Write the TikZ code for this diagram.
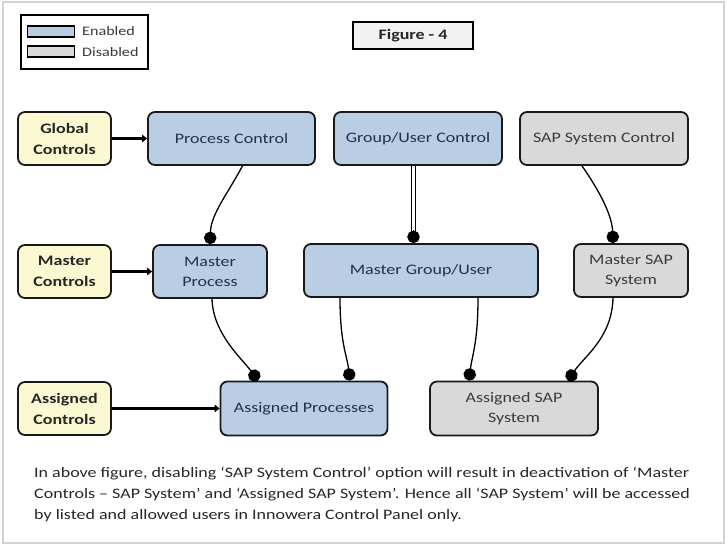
\documentclass[tikz,border=0pt]{standalone}
\usepackage{fontspec}
\setmainfont{Carlito}[FakeStretch=1.24]
\usetikzlibrary{arrows.meta,calc}
\definecolor{enfill}{HTML}{B9CDE5}
\definecolor{disfill}{HTML}{D9D9D9}
\definecolor{ctlfill}{HTML}{FCF9D2}
\definecolor{entext}{HTML}{1F3050}
\definecolor{distext}{HTML}{3A3A3A}
\definecolor{framec}{HTML}{D0D4D8}
\definecolor{bodytext}{HTML}{262626}
\tikzset{
  box/.style={draw=black!90, line width=1.8pt, rounded corners=7pt, align=center,
    inner sep=2pt, font=\fontsize{14.5}{20}\selectfont},
  enbox/.style={box, fill=enfill, text=entext},
  disbox/.style={box, fill=disfill, text=distext},
  ctlbox/.style={box, fill=ctlfill, text=bodytext, minimum width=93pt, minimum height=53pt,
    font=\fontsize{14.5}{21}\selectfont\bfseries},
  thickarrow/.style={line width=3.2pt, -{Triangle[length=5pt,width=7.5pt]}},
  dotline/.style={line width=1.3pt, -{Circle[length=12.5pt]}},
}
\begin{document}
\begin{tikzpicture}[x=1pt,y=-1pt]
\useasboundingbox (0,0) rectangle (728,547);
\draw[framec, line width=2pt] (3,2) rectangle (724,543);

% legend
\node[draw=black, line width=1.5pt, minimum width=127pt, minimum height=54pt, inner sep=0pt] (legend) at (84.5,42) {};
\node[draw=black, line width=1.5pt, fill=enfill, minimum width=47pt, minimum height=11pt, inner sep=0pt] (swen) at (51,31.5) {};
\node[draw=black, line width=1.5pt, fill=disfill, minimum width=47pt, minimum height=11pt, inner sep=0pt] (swdis) at (51,51.5) {};
\node[anchor=west, text=distext, font=\fontsize{13}{15}\selectfont, inner sep=0pt] (len) at (82,31.5) {Enabled};
\node[anchor=west, text=distext, font=\fontsize{13}{15}\selectfont, inner sep=0pt] (ldis) at (82,52) {Disabled};

% figure title
\node[draw=black, line width=1.5pt, fill=black!5, minimum width=120pt, minimum height=27pt,
  font=\fontsize{14.5}{17}\selectfont\bfseries, text=bodytext] (fig) at (413,35.5) {Figure - 4};

% control labels
\node[ctlbox] (gc) at (64.5,138.5) {Global\\Controls};
\node[ctlbox] (mc) at (64.5,271.5) {Master\\Controls};
\node[ctlbox] (ac) at (64.5,408.5) {Assigned\\Controls};

% top row
\node[enbox, minimum width=167pt, minimum height=53pt] (pc) at (231.5,138.5) {Process Control};
\node[enbox, minimum width=168pt, minimum height=53pt] (gu) at (418,138.5) {Group/User Control};
\node[disbox, minimum width=168pt, minimum height=53pt] (sc) at (604,138.5) {SAP System Control};

% middle row
\node[enbox, minimum width=114pt, minimum height=53pt] (mp) at (210,271.5) {Master\\Process};
\node[enbox, minimum width=234pt, minimum height=53pt] (mg) at (421,270.5) {Master Group/User};
\node[disbox, minimum width=114pt, minimum height=53pt] (ms) at (631,270.5) {Master SAP\\System};

% bottom row
\node[enbox, minimum width=167pt, minimum height=54pt] (ap) at (304,408.5) {Assigned Processes};
\node[disbox, minimum width=168pt, minimum height=54pt] (as) at (514,408.5) {Assigned SAP\\System};

% thick arrows
\draw[thickarrow] (gc.east) -- (pc.west);
\draw[thickarrow] (mc.east) -- (mp.west);
\draw[thickarrow] (ac.east) -- (ap.west |- ac.east);

% dot connectors
\draw[dotline] ($(pc.south)+(11,0)$) .. controls ($(pc.south)+(-4,28)$) and ($(mp.north)+(1,-30)$) .. (mp.north);
\coordinate (gus) at ($(gu.south)+(-4.5,0)$);
\coordinate (gue) at (gus |- mg.north);
\draw[line width=1.2pt, double, double distance=2.5pt] (gus) -- ($(gue)+(0,-9)$);
\draw[dotline] ($(gue)+(0,-13)$) -- (gue);
\draw[dotline] ($(sc.south)+(-22,0)$) .. controls ($(sc.south)+(-8,20)$) and ($(ms.north)+(-19,-30)$) .. ($(ms.north)+(-18,0)$);
\draw[dotline] ($(mp.south)+(2,0)$) .. controls ($(mp.south)+(3,35)$) and ($(ap.north)+(-62,-22)$) .. ($(ap.north)+(-46,0)$);
\draw[dotline] ($(mg.south)+(-81,0)$) .. controls ($(mg.south)+(-81,45)$) and ($(ap.north)+(43,-25)$) .. ($(ap.north)+(46,0)$);
\draw[dotline] ($(mg.south)+(57,0)$) .. controls ($(mg.south)+(57,45)$) and ($(as.north)+(-42,-25)$) .. ($(as.north)+(-45,0)$);
\draw[dotline] ($(ms.south)+(-18,0)$) .. controls ($(ms.south)+(-19,40)$) and ($(as.north)+(70,-24)$) .. ($(as.north)+(54,0)$);

% caption text
\node[anchor=north west, align=left, inner sep=0pt, text=bodytext,
  font=\fontsize{14.5}{21}\selectfont] (cap) at (34,467)
 {In above figure, disabling ‘SAP System Control’ option will result in deactivation of ‘Master\\
  Controls – SAP System’ and ‘Assigned SAP System’. Hence all ‘SAP System’ will be accessed\\
  by listed and allowed users in Innowera Control Panel only.};
\end{tikzpicture}
\end{document}
